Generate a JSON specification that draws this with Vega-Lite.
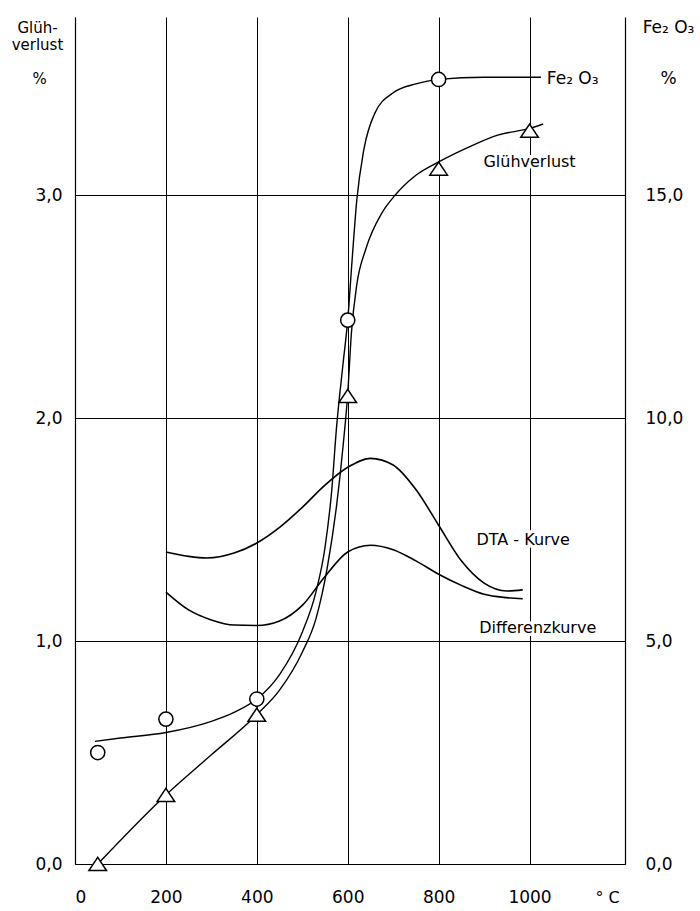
{
  "$schema": "https://vega.github.io/schema/vega-lite/v6.json",
  "width": 550,
  "height": 847,
  "autosize": {"type": "none"},
  "padding": {"left": 75, "top": 17, "right": 75, "bottom": 47},
  "background": "white",
  "config": {
    "view": {"stroke": null},
    "font": "DejaVu Sans",
    "axis": {
      "domainColor": "black",
      "domainWidth": 1.2,
      "gridColor": "black",
      "gridOpacity": 1,
      "gridWidth": 1,
      "ticks": false,
      "labelColor": "black",
      "labelFontSize": 17,
      "titleColor": "black",
      "titleFontWeight": "normal",
      "titleFontSize": 15
    }
  },
  "datasets": {
    "fe_curve": [
      {"t": 44, "fe": 2.75}, {"t": 100, "fe": 2.825}, {"t": 200, "fe": 2.95}, {"t": 300, "fe": 3.2},
      {"t": 350, "fe": 3.4}, {"t": 400, "fe": 3.7}, {"t": 450, "fe": 4.25}, {"t": 500, "fe": 5.2},
      {"t": 530, "fe": 6.1}, {"t": 550, "fe": 7.1}, {"t": 565, "fe": 8.4}, {"t": 575, "fe": 9.75},
      {"t": 590, "fe": 11.25}, {"t": 600, "fe": 12.2}, {"t": 610, "fe": 13.6}, {"t": 620, "fe": 14.9},
      {"t": 635, "fe": 16.0}, {"t": 660, "fe": 16.85}, {"t": 700, "fe": 17.3}, {"t": 750, "fe": 17.5},
      {"t": 800, "fe": 17.6}, {"t": 900, "fe": 17.65}, {"t": 1025, "fe": 17.65}
    ],
    "fe_points": [
      {"t": 50, "fe": 2.5}, {"t": 200, "fe": 3.25}, {"t": 400, "fe": 3.7}, {"t": 600, "fe": 12.2}, {"t": 800, "fe": 17.6}
    ],
    "fe_label": [
      {"t": 1038, "fe": 17.5, "label": "Fe₂ O₃"}
    ],
    "gv_curve": [
      {"t": 50, "v": 0.0}, {"t": 200, "v": 0.31}, {"t": 300, "v": 0.49}, {"t": 400, "v": 0.67},
      {"t": 450, "v": 0.78}, {"t": 500, "v": 0.95}, {"t": 530, "v": 1.1}, {"t": 555, "v": 1.33},
      {"t": 575, "v": 1.6}, {"t": 590, "v": 1.88}, {"t": 600, "v": 2.11}, {"t": 608, "v": 2.38},
      {"t": 620, "v": 2.6}, {"t": 640, "v": 2.76}, {"t": 675, "v": 2.92}, {"t": 704, "v": 3.0},
      {"t": 750, "v": 3.09}, {"t": 800, "v": 3.15}, {"t": 870, "v": 3.22}, {"t": 930, "v": 3.27},
      {"t": 1000, "v": 3.3}, {"t": 1030, "v": 3.32}
    ],
    "gv_points": [
      {"t": 50, "v": 0.0}, {"t": 200, "v": 0.31}, {"t": 400, "v": 0.67}, {"t": 600, "v": 2.1}, {"t": 800, "v": 3.12}, {"t": 1000, "v": 3.29}
    ],
    "gv_label": [
      {"t": 1000, "v": 3.127, "label": "Glühverlust"}
    ],
    "dta": [
      {"t": 200, "v": 1.40}, {"t": 250, "v": 1.38}, {"t": 290, "v": 1.373}, {"t": 350, "v": 1.395},
      {"t": 400, "v": 1.44}, {"t": 450, "v": 1.51}, {"t": 500, "v": 1.60}, {"t": 550, "v": 1.70},
      {"t": 600, "v": 1.78}, {"t": 650, "v": 1.82}, {"t": 700, "v": 1.79}, {"t": 750, "v": 1.68},
      {"t": 800, "v": 1.52}, {"t": 850, "v": 1.36}, {"t": 900, "v": 1.26}, {"t": 950, "v": 1.225},
      {"t": 985, "v": 1.23}
    ],
    "diff": [
      {"t": 200, "v": 1.22}, {"t": 250, "v": 1.14}, {"t": 300, "v": 1.095}, {"t": 350, "v": 1.072},
      {"t": 400, "v": 1.07}, {"t": 450, "v": 1.09}, {"t": 500, "v": 1.16}, {"t": 550, "v": 1.29},
      {"t": 600, "v": 1.40}, {"t": 650, "v": 1.43}, {"t": 700, "v": 1.41}, {"t": 750, "v": 1.36},
      {"t": 800, "v": 1.30}, {"t": 850, "v": 1.25}, {"t": 900, "v": 1.21}, {"t": 950, "v": 1.195},
      {"t": 985, "v": 1.19}
    ],
    "curve_labels": [
      {"t": 986, "v": 1.431, "label": "DTA - Kurve"},
      {"t": 1018, "v": 1.036, "label": "Differenzkurve"}
    ]
  },
  "encoding": {
    "x": {
      "field": "t",
      "type": "quantitative",
      "scale": {"domain": [0, 1210], "nice": false, "zero": false},
      "axis": {
        "values": [0, 200, 400, 600, 800, 1000],
        "grid": true,
        "format": "d",
        "labelBaseline": "middle",
        "labelPadding": 33,
        "title": "° C",
        "titleFontSize": 16,
        "titleX": 532,
        "titleY": 33,
        "titleBaseline": "middle",
        "titleAlign": "center"
      }
    }
  },
  "layer": [
    {
      "encoding": {
        "y": {
          "field": "v",
          "type": "quantitative",
          "scale": {"domain": [0, 3.8], "nice": false},
          "axis": {
            "values": [0, 1, 2, 3],
            "grid": true,
            "labelExpr": "replace(format(datum.value, '.1f'), '.', ',')",
            "labelPadding": 13,
            "labelBaseline": "middle",
            "title": ["Glüh-", "verlust"],
            "titleAngle": 0,
            "titleAlign": "center",
            "titleBaseline": "alphabetic",
            "titleLineHeight": 17,
            "titleX": -38,
            "titleY": 15
          }
        }
      },
      "layer": [
        {"data": {"name": "gv_curve"}, "mark": {"type": "line", "color": "black", "strokeWidth": 1.4, "interpolate": "monotone"}},
        {"data": {"name": "gv_points"}, "mark": {"type": "point", "shape": "M-1,0.75H1L0,-0.75Z", "size": 310, "filled": true, "fill": "white", "stroke": "black", "strokeWidth": 1.5, "opacity": 1}},
        {"data": {"name": "gv_label"}, "mark": {"type": "text", "fontSize": 16, "align": "center", "baseline": "alphabetic", "color": "white", "stroke": "white", "strokeWidth": 6}, "encoding": {"text": {"field": "label"}}},
        {"data": {"name": "gv_label"}, "mark": {"type": "text", "fontSize": 16, "align": "center", "baseline": "alphabetic", "color": "black"}, "encoding": {"text": {"field": "label"}}}
      ]
    },
    {
      "encoding": {
        "y": {
          "field": "v",
          "type": "quantitative",
          "scale": {"domain": [0, 3.8], "nice": false},
          "axis": {
            "orient": "left",
            "values": [0, 1, 2, 3],
            "grid": false,
            "labels": false,
            "domain": false,
            "ticks": false,
            "title": "%",
            "titleAngle": 0,
            "titleAlign": "center",
            "titleBaseline": "alphabetic",
            "titleX": -36,
            "titleY": 66
          }
        }
      },
      "layer": [
        {"data": {"name": "dta"}, "mark": {"type": "line", "color": "black", "strokeWidth": 1.6, "interpolate": "monotone"}},
        {"data": {"name": "diff"}, "mark": {"type": "line", "color": "black", "strokeWidth": 1.6, "interpolate": "monotone"}},
        {"data": {"name": "curve_labels"}, "mark": {"type": "text", "fontSize": 16, "align": "center", "baseline": "alphabetic", "color": "white", "stroke": "white", "strokeWidth": 6}, "encoding": {"text": {"field": "label"}}},
        {"data": {"name": "curve_labels"}, "mark": {"type": "text", "fontSize": 16, "align": "center", "baseline": "alphabetic", "color": "black"}, "encoding": {"text": {"field": "label"}}}
      ]
    },
    {
      "encoding": {
        "y": {
          "field": "fe",
          "type": "quantitative",
          "scale": {"domain": [0, 19], "nice": false},
          "axis": {
            "orient": "right",
            "values": [0, 5, 10, 15],
            "grid": false,
            "labelExpr": "replace(format(datum.value, '.1f'), '.', ',')",
            "labelPadding": 20,
            "labelAlign": "left",
            "labelBaseline": "middle",
            "title": ["Fe₂ O₃", "%"],
            "titleAngle": 0,
            "titleAlign": "center",
            "titleBaseline": "alphabetic",
            "titleLineHeight": 51,
            "titleFontSize": 17,
            "titleX": 43,
            "titleY": 15
          }
        }
      },
      "layer": [
        {"data": {"name": "fe_curve"}, "mark": {"type": "line", "color": "black", "strokeWidth": 1.4, "interpolate": "monotone"}},
        {"data": {"name": "fe_points"}, "mark": {"type": "point", "shape": "circle", "size": 200, "filled": true, "fill": "white", "stroke": "black", "strokeWidth": 1.5, "opacity": 1}},
        {"data": {"name": "fe_label"}, "mark": {"type": "text", "fontSize": 17, "align": "left", "baseline": "alphabetic", "color": "black"}, "encoding": {"text": {"field": "label"}}}
      ]
    }
  ],
  "resolve": {"scale": {"y": "independent"}}
}
